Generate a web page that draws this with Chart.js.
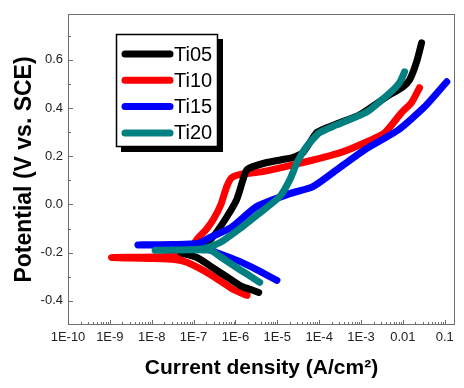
<!DOCTYPE html>
<html>
<head>
<meta charset="utf-8">
<script src="https://cdn.jsdelivr.net/npm/chart.js@4/dist/chart.umd.min.js"></script>
<style>
  html, body { margin: 0; padding: 0; background: #fff; }
  canvas { display: block; }
</style>
</head>
<body>
<canvas id="tafel" width="464" height="388"></canvas>
<script>
const seriesNames = ['Ti05', 'Ti10', 'Ti15', 'Ti20'];
const seriesColors = ['#000000', '#ff0000', '#0000ff', '#008080'];

// each curve runs cathodic end -> Ecorr -> anodic end
// current density in A/cm2, potential in V vs. SCE
const ti05Current = [3.6e-6, 2.5e-6, 1.4e-6, 6.2e-7, 2.75e-7, 1.2e-7, 5e-8, 1.0e-7, 1.9e-7, 3.2e-7, 6.3e-7, 1.07e-6, 1.5e-6, 1.9e-6, 5.6e-6, 2.3e-5, 4.1e-5, 8.7e-5, 1.5e-4, 3.1e-4, 9.3e-4, 4.1e-3, 1.0e-2, 1.45e-2, 2.1e-2, 2.8e-2];
const ti05Potential = [-0.365, -0.355, -0.34, -0.30, -0.26, -0.22, -0.20, -0.19, -0.166, -0.125, -0.05, 0.02, 0.10, 0.145, 0.174, 0.194, 0.215, 0.298, 0.318, 0.339, 0.372, 0.447, 0.488, 0.517, 0.588, 0.67];

const ti10Current = [1.9e-6, 8.7e-7, 2.5e-7, 6.9e-8, 3.5e-8, 9.1e-9, 1.1e-9, 1.0e-8, 5e-8, 7.9e-8, 1.2e-7, 2.0e-7, 3.0e-7, 4.5e-7, 6.2e-7, 8.1e-7, 1.26e-6, 4.5e-6, 2.95e-5, 3.1e-4, 1.23e-3, 3.7e-3, 9.3e-3, 1.6e-2, 2.5e-2];
const ti10Potential = [-0.377, -0.352, -0.29, -0.24, -0.228, -0.224, -0.22, -0.218, -0.21, -0.19, -0.145, -0.104, -0.06, 0.0, 0.074, 0.111, 0.124, 0.136, 0.168, 0.214, 0.256, 0.298, 0.381, 0.422, 0.484];

const ti15Current = [9.8e-6, 3.2e-6, 1.26e-6, 3.6e-7, 1.26e-7, 4.7e-9, 3.2e-8, 1.26e-7, 2.5e-7, 8e-7, 3.2e-6, 2e-5, 7.1e-5, 3.1e-4, 1.23e-3, 7.9e-3, 3.3e-2, 0.112];
const ti15Potential = [-0.315, -0.27, -0.236, -0.2, -0.172, -0.168, -0.166, -0.162, -0.137, -0.095, -0.009, 0.045, 0.074, 0.153, 0.227, 0.31, 0.405, 0.509];

const ti20Current = [3.8e-6, 2.2e-6, 1.26e-6, 4.3e-7, 2.5e-7, 1.2e-8, 1.6e-7, 4.3e-7, 1.5e-6, 3.4e-6, 1.15e-5, 2e-5, 2.95e-5, 5e-5, 1.02e-4, 2.6e-4, 1.4e-3, 4.9e-3, 8.3e-3, 1.1e-2];
const ti20Potential = [-0.323, -0.296, -0.27, -0.216, -0.19, -0.19, -0.185, -0.158, -0.091, -0.042, 0.033, 0.103, 0.173, 0.24, 0.298, 0.33, 0.385, 0.463, 0.505, 0.55];

const xTicks = [1e-10, 1e-9, 1e-8, 1e-7, 1e-6, 1e-5, 1e-4, 1e-3, 1e-2, 1e-1];
const xTickLabels = ['1E-10', '1E-9', '1E-8', '1E-7', '1E-6', '1E-5', '1E-4', '1E-3', '0.01', '0.1'];
const yTicks = [-0.4, -0.2, 0, 0.2, 0.4, 0.6];
const yTickLabels = ['-0.4', '-0.2', '0.0', '0.2', '0.4', '0.6'];
const yMinorTicks = [-0.3, -0.1, 0.1, 0.3, 0.5, 0.7];

const FONT = "'Liberation Sans', Arial, sans-serif";

function toPoints(xs, ys) {
  return xs.map((x, i) => ({ x, y: ys[i] }));
}

// frame around the plot plus inward major/minor ticks
const frameAndTicks = {
  id: 'frameAndTicks',
  afterDraw(chart) {
    const { ctx, chartArea: a, scales: { x, y } } = chart;
    ctx.save();
    ctx.strokeStyle = '#6e6e6e';
    ctx.lineWidth = 1;
    ctx.strokeRect(a.left + 0.5, a.top + 0.5, a.right - a.left - 1, a.bottom - a.top - 1);
    ctx.beginPath();
    xTicks.forEach(v => {
      const px = Math.round(x.getPixelForValue(v)) + 0.5;
      ctx.moveTo(px, a.bottom); ctx.lineTo(px, a.bottom - 5);
      for (let m = 2; m <= 9; m++) {
        const mv = m * v;
        if (mv > x.max) break;
        const mx = Math.round(x.getPixelForValue(mv)) + 0.5;
        ctx.moveTo(mx, a.bottom); ctx.lineTo(mx, a.bottom - 3);
      }
    });
    yTicks.forEach(v => {
      const py = Math.round(y.getPixelForValue(v)) + 0.5;
      ctx.moveTo(a.left, py); ctx.lineTo(a.left + 5, py);
    });
    yMinorTicks.forEach(v => {
      const py = Math.round(y.getPixelForValue(v)) + 0.5;
      ctx.moveTo(a.left, py); ctx.lineTo(a.left + 3, py);
    });
    ctx.stroke();
    ctx.restore();
  }
};

// boxed legend with drop shadow
const boxLegend = {
  id: 'boxLegend',
  afterDraw(chart) {
    const ctx = chart.ctx;
    const bx = 116, by = 34, bw = 102, bh = 113;
    ctx.save();
    ctx.fillStyle = '#000';
    ctx.fillRect(bx + 5, by + 5, bw, bh);
    ctx.fillStyle = '#fff';
    ctx.fillRect(bx, by, bw, bh);
    ctx.strokeStyle = '#000';
    ctx.lineWidth = 1.5;
    ctx.strokeRect(bx + 0.5, by + 0.5, bw - 1, bh - 1);
    ctx.font = '20px ' + FONT;
    ctx.textBaseline = 'middle';
    ctx.lineCap = 'round';
    ctx.lineWidth = 7;
    seriesNames.forEach((name, i) => {
      const ry = 54 + i * 26.3;
      ctx.strokeStyle = seriesColors[i];
      ctx.beginPath();
      ctx.moveTo(125, ry);
      ctx.lineTo(170, ry);
      ctx.stroke();
      ctx.fillStyle = '#000';
      ctx.fillText(name, 174, ry + 1);
    });
    ctx.restore();
  }
};

const curves = [
  [ti05Current, ti05Potential, 2],
  [ti10Current, ti10Potential, 3],
  [ti15Current, ti15Potential, 1],
  [ti20Current, ti20Potential, 0],
];

new Chart(document.getElementById('tafel'), {
  type: 'scatter',
  data: {
    datasets: curves.map(([xs, ys, order], i) => ({
      label: seriesNames[i],
      data: toPoints(xs, ys),
      showLine: true,
      borderColor: seriesColors[i],
      backgroundColor: seriesColors[i],
      borderWidth: 7,
      borderCapStyle: 'round',
      borderJoinStyle: 'round',
      pointRadius: 0,
      tension: 0.2,
      order,
    })),
  },
  options: {
    responsive: false,
    animation: false,
    layout: { padding: { left: 0, top: 14, right: 9, bottom: 0 } },
    plugins: {
      legend: { display: false },
      tooltip: { enabled: false },
    },
    scales: {
      x: {
        type: 'logarithmic',
        min: 1e-10,
        max: 0.176,
        afterFit: s => { s.height = 63; },
        afterBuildTicks: s => { s.ticks = xTicks.map(v => ({ value: v, major: true })); },
        grid: { display: false, drawTicks: false },
        border: { display: false },
        ticks: {
          autoSkip: false,
          maxRotation: 0,
          minRotation: 0,
          padding: 5,
          color: '#222',
          font: { family: FONT, size: 13 },
          callback: (v, i) => xTickLabels[i],
        },
        title: {
          display: true,
          text: 'Current density (A/cm²)',
          color: '#000',
          font: { family: FONT, size: 21, weight: 'bold' },
          padding: { top: 0, bottom: 7 },
        },
      },
      y: {
        min: -0.5,
        max: 0.79,
        afterFit: s => { s.width = 68; },
        afterBuildTicks: s => { s.ticks = yTicks.map(v => ({ value: v })); },
        grid: { display: false, drawTicks: false },
        border: { display: false },
        ticks: {
          padding: 5,
          color: '#222',
          font: { family: FONT, size: 13 },
          callback: (v, i) => yTickLabels[i],
        },
        title: {
          display: true,
          text: 'Potential (V vs. SCE)',
          color: '#000',
          font: { family: FONT, size: 23, weight: 'bold' },
          padding: { top: 11, bottom: 0 },
        },
      },
    },
  },
  plugins: [frameAndTicks, boxLegend],
});
</script>
</body>
</html>
